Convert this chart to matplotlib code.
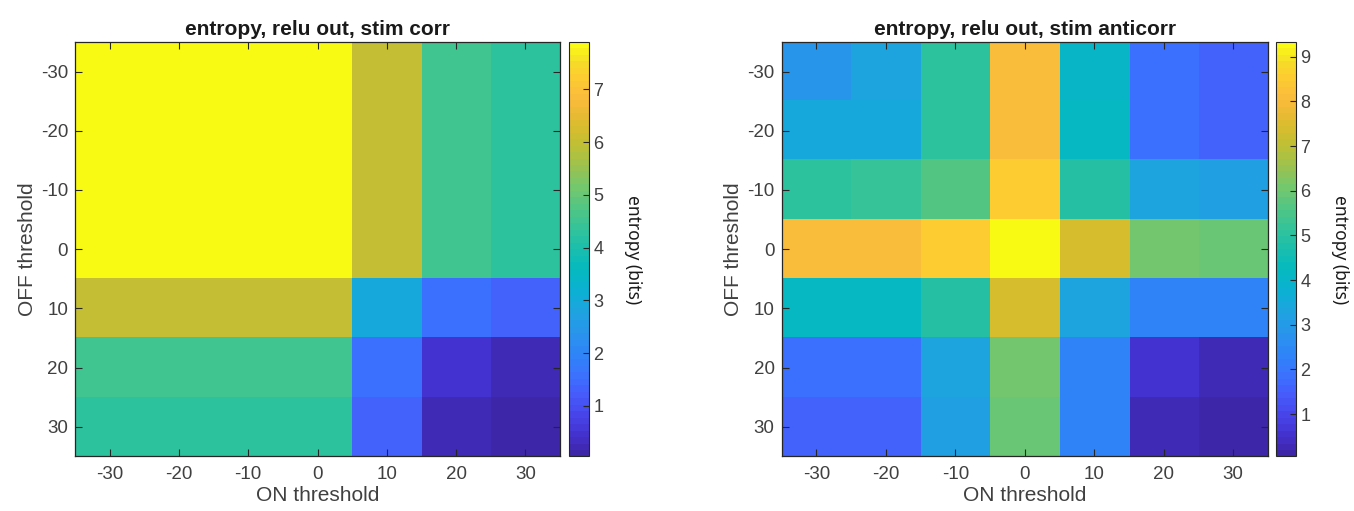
import numpy as np
import matplotlib
matplotlib.use('Agg')
import matplotlib.pyplot as plt
from matplotlib.colors import LinearSegmentedColormap

# thresholds (ON along x, OFF along y)
on_thresh = [-30, -20, -10, 0, 10, 20, 30]
off_thresh = [-30, -20, -10, 0, 10, 20, 30]

# entropy (bits), rows = OFF threshold, cols = ON threshold
entropy_corr = [
    [7.90, 7.90, 7.90, 7.90, 6.05, 4.55, 4.30],
    [7.90, 7.90, 7.90, 7.90, 6.05, 4.55, 4.30],
    [7.90, 7.90, 7.90, 7.90, 6.05, 4.55, 4.30],
    [7.90, 7.90, 7.90, 7.90, 6.05, 4.55, 4.30],
    [6.05, 6.05, 6.05, 6.05, 2.95, 1.60, 1.35],
    [4.55, 4.55, 4.55, 4.55, 1.60, 0.47, 0.28],
    [4.30, 4.30, 4.30, 4.30, 1.35, 0.28, 0.04],
]
entropy_anti = [
    [2.90, 3.30, 5.00, 8.10, 4.05, 1.90, 1.60],
    [3.40, 3.40, 5.10, 8.10, 4.15, 1.90, 1.60],
    [5.10, 5.15, 5.70, 8.55, 4.90, 3.30, 3.15],
    [8.10, 8.10, 8.55, 9.33, 7.40, 6.10, 5.90],
    [4.15, 4.15, 4.90, 7.40, 3.35, 2.30, 2.25],
    [1.90, 1.90, 3.30, 6.10, 2.30, 0.55, 0.33],
    [1.60, 1.60, 3.15, 5.90, 2.25, 0.33, 0.05],
]
titles = ['entropy, relu out, stim corr', 'entropy, relu out, stim anticorr']
cbar_ticks = [[1, 2, 3, 4, 5, 6, 7], [1, 2, 3, 4, 5, 6, 7, 8, 9]]

# rough parula (matlab) colormap
parula_pts = [
    (0.00, (0.2422, 0.1504, 0.6603)),
    (0.05, (0.2670, 0.2000, 0.8200)),
    (0.10, (0.2780, 0.2800, 0.9300)),
    (0.15, (0.2720, 0.3700, 0.9900)),
    (0.20, (0.2200, 0.4600, 0.9950)),
    (0.25, (0.1800, 0.5300, 0.9650)),
    (0.30, (0.1580, 0.5900, 0.9200)),
    (0.35, (0.1150, 0.6450, 0.8750)),
    (0.40, (0.0400, 0.6950, 0.8250)),
    (0.45, (0.0200, 0.7250, 0.7500)),
    (0.50, (0.1000, 0.7450, 0.6800)),
    (0.55, (0.2000, 0.7650, 0.6050)),
    (0.60, (0.3200, 0.7750, 0.5200)),
    (0.65, (0.4500, 0.7800, 0.4300)),
    (0.70, (0.6000, 0.7650, 0.3200)),
    (0.75, (0.7400, 0.7500, 0.2100)),
    (0.80, (0.8500, 0.7400, 0.1800)),
    (0.85, (0.9500, 0.7300, 0.2200)),
    (0.88, (0.9900, 0.7450, 0.2350)),
    (0.92, (0.9900, 0.8000, 0.1900)),
    (0.96, (0.9650, 0.8700, 0.1550)),
    (1.00, (0.9769, 0.9839, 0.0805)),
]
parula = LinearSegmentedColormap.from_list('parula', parula_pts, N=64)

plt.rcParams['font.family'] = ['Liberation Sans', 'DejaVu Sans']
plt.rcParams['axes.unicode_minus'] = False
fg = '#262626'
txt = '#404040'

fig = plt.figure(figsize=(13.54, 5.11), dpi=100)
ax_pos = [[0.0554, 0.1067, 0.3582, 0.8112], [0.5772, 0.1067, 0.3593, 0.8112]]
cax_pos = [[0.4202, 0.1067, 0.0148, 0.8112], [0.9424, 0.1067, 0.0148, 0.8112]]

for i, data in enumerate([entropy_corr, entropy_anti]):
    data = np.array(data)
    ax = fig.add_axes(ax_pos[i])
    step = on_thresh[1] - on_thresh[0]
    ext = [on_thresh[0] - step / 2, on_thresh[-1] + step / 2,
           off_thresh[-1] + step / 2, off_thresh[0] - step / 2]
    im = ax.imshow(data, cmap=parula, extent=ext, aspect='auto',
                   interpolation='nearest', vmin=data.min(), vmax=data.max())
    ax.set_xticks(on_thresh)
    ax.set_yticks(off_thresh)
    ax.tick_params(direction='in', top=True, right=True, length=5, width=0.8,
                   color=fg, labelcolor=txt, labelsize=13.5)
    ax.tick_params(axis='x', pad=7)
    ax.tick_params(axis='y', pad=5)
    for s in ax.spines.values():
        s.set_color(fg)
        s.set_linewidth(0.9)
    ax.set_title(titles[i], fontsize=15, fontweight='bold', color='#1a1a1a', pad=5)
    ax.set_xlabel('ON threshold', fontsize=15, color=txt, labelpad=2)
    ax.set_ylabel('OFF threshold', fontsize=15, color=txt, labelpad=3)

    cax = fig.add_axes(cax_pos[i])
    cb = fig.colorbar(im, cax=cax, ticks=cbar_ticks[i])
    cb.ax.tick_params(direction='in', length=4, width=0.8, color=fg,
                      labelcolor=txt, labelsize=13, pad=3)
    cb.outline.set_edgecolor(fg)
    cb.outline.set_linewidth(0.8)
    cb.set_label('entropy (bits)', rotation=-90, fontsize=12.5, color='#1a1a1a',
                 labelpad=28, family=['Noto Sans', 'DejaVu Sans'])

fig.savefig('out.png', dpi=100)
